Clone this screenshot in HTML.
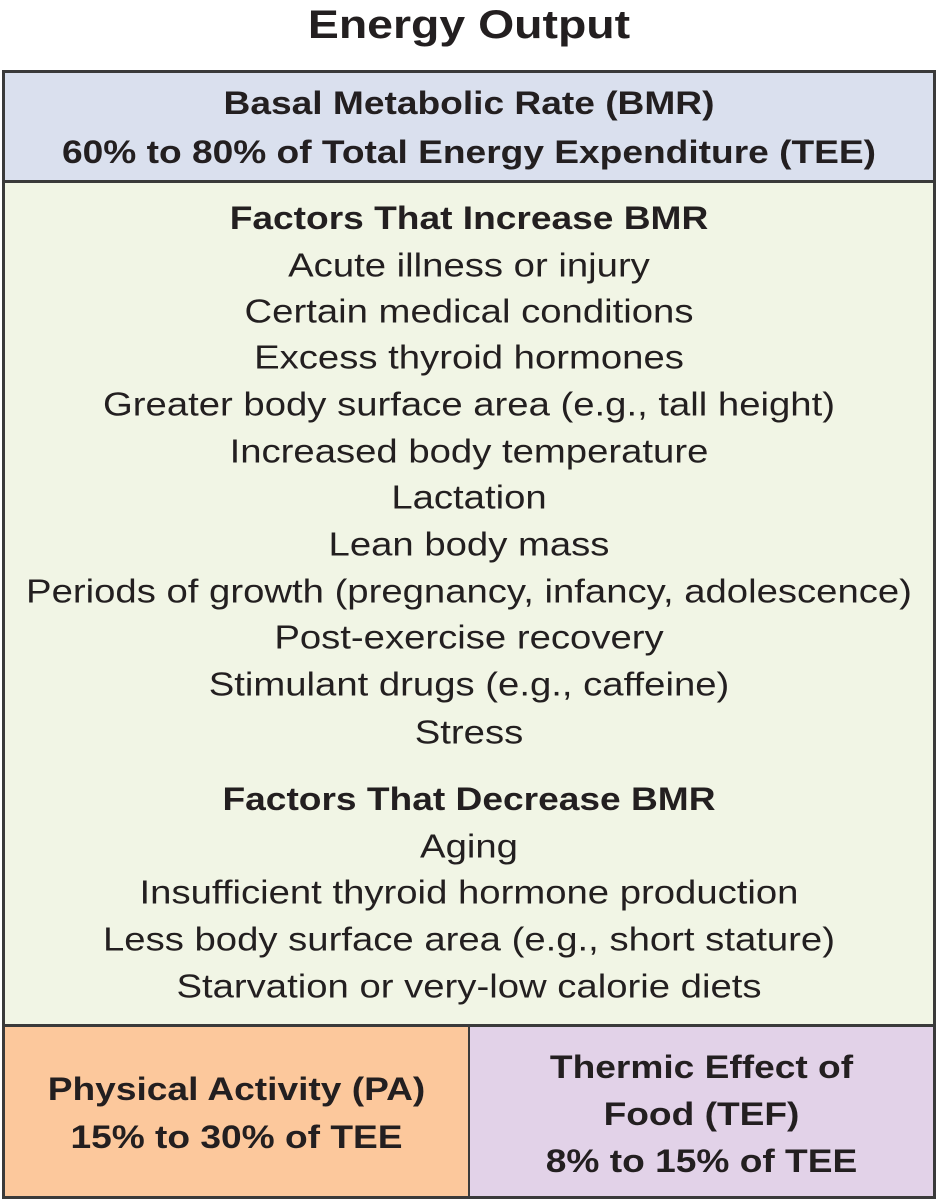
<!DOCTYPE html>
<html><head><meta charset="utf-8"><style>
body{margin:0;width:938px;height:1200px;background:#fff;position:relative;overflow:hidden;font-family:"Liberation Sans",sans-serif;color:#231f20}
.l{position:absolute;left:0;width:100%;text-align:center;white-space:nowrap;transform:translateY(-50%) scaleX(1.16);line-height:1}
.box{position:absolute;box-sizing:border-box}
.r{font-size:33px}
.b{font-weight:bold;font-size:32px}
</style></head><body>
<div class="l" style="top:25px;font-size:40px;font-weight:bold">Energy Output</div>
<div class="box" style="left:2px;top:70px;width:934px;height:1129px;border:3px solid #3a3a3a;background:#f1f5e5"></div>
<div class="box" style="left:5px;top:73px;width:928px;height:110px;background:#dae0ee;border-bottom:3px solid #3a3a3a">
  <div class="l b" style="top:30px">Basal Metabolic Rate (BMR)</div>
  <div class="l b" style="top:79px">60% to 80% of Total Energy Expenditure (TEE)</div>
</div>
<div class="box" style="left:5px;top:186px;width:928px;height:838px">
  <div class="l b" style="top:32px">Factors That Increase BMR</div>
  <div class="l r" style="top:79px">Acute illness or injury</div>
  <div class="l r" style="top:125px">Certain medical conditions</div>
  <div class="l r" style="top:171px">Excess thyroid hormones</div>
  <div class="l r" style="top:218px">Greater body surface area (e.g., tall height)</div>
  <div class="l r" style="top:265px">Increased body temperature</div>
  <div class="l r" style="top:311px">Lactation</div>
  <div class="l r" style="top:358px">Lean body mass</div>
  <div class="l r" style="top:405px">Periods of growth (pregnancy, infancy, adolescence)</div>
  <div class="l r" style="top:451px">Post-exercise recovery</div>
  <div class="l r" style="top:498px">Stimulant drugs (e.g., caffeine)</div>
  <div class="l r" style="top:546px">Stress</div>
  <div class="l b" style="top:613px">Factors That Decrease BMR</div>
  <div class="l r" style="top:660px">Aging</div>
  <div class="l r" style="top:706px">Insufficient thyroid hormone production</div>
  <div class="l r" style="top:753px">Less body surface area (e.g., short stature)</div>
  <div class="l r" style="top:800px">Starvation or very-low calorie diets</div>
</div>
<div class="box" style="left:5px;top:1024px;width:465px;height:172px;background:#fcc89c;border-top:3px solid #3a3a3a;border-right:2px solid #3a3a3a">
  <div class="l b" style="top:62px">Physical Activity (PA)</div>
  <div class="l b" style="top:110px">15% to 30% of TEE</div>
</div>
<div class="box" style="left:470px;top:1024px;width:463px;height:172px;background:#e2d2e8;border-top:3px solid #3a3a3a">
  <div class="l b" style="top:40px">Thermic Effect of</div>
  <div class="l b" style="top:87px">Food (TEF)</div>
  <div class="l b" style="top:134px">8% to 15% of TEE</div>
</div>
</body></html>
